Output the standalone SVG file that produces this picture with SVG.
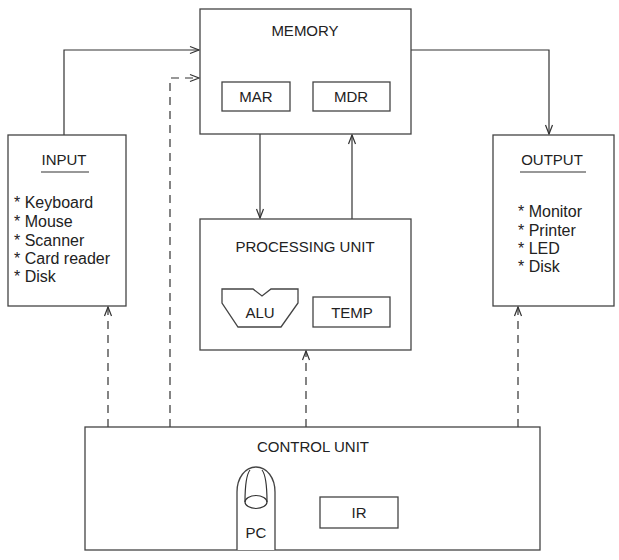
<svg xmlns="http://www.w3.org/2000/svg" width="619" height="560" viewBox="0 0 619 560">
<defs>
<marker id="arr" markerWidth="12" markerHeight="10" refX="10" refY="5" orient="auto" markerUnits="userSpaceOnUse">
<path d="M1,1.5 L10,5 L1,8.5" fill="none" stroke="#333" stroke-width="1.2"/>
</marker>
</defs>
<style>
.box{fill:#fff;stroke:#444;stroke-width:1.3}
.t{font-family:"Liberation Sans",Arial,sans-serif;font-size:15px;fill:#222}
.li{font-size:16px}
.c{text-anchor:middle}
.ln{fill:none;stroke:#333;stroke-width:1.2}
.dash{stroke-dasharray:8 6}
</style>
<rect width="619" height="560" fill="#fff"/>
<g id="connectors">
<path class="ln" d="M64,135 V50 H199" marker-end="url(#arr)"/>
<path class="ln dash" d="M170,427 V78 H199" marker-end="url(#arr)"/>
<path class="ln" d="M411,50 H549 V134" marker-end="url(#arr)"/>
<path class="ln" d="M260,134 V218" marker-end="url(#arr)"/>
<path class="ln" d="M352,219 V135" marker-end="url(#arr)"/>
<path class="ln dash" d="M108,427 V307" marker-end="url(#arr)"/>
<path class="ln dash" d="M306,427 V351" marker-end="url(#arr)"/>
<path class="ln dash" d="M518,427 V307" marker-end="url(#arr)"/>
</g>
<g id="memory">
<rect class="box" x="200" y="9" width="211" height="125"/>
<text class="t c" x="305" y="36">MEMORY</text>
<g id="mar"><rect class="box" x="222" y="82" width="68" height="29"/><text class="t c" x="256" y="102">MAR</text></g>
<g id="mdr"><rect class="box" x="313" y="82" width="77" height="29"/><text class="t c" x="351" y="102">MDR</text></g>
</g>
<g id="input">
<rect class="box" x="8" y="135" width="118" height="171"/>
<text class="t c" x="64" y="165">INPUT</text>
<line class="ln" x1="41" y1="172" x2="89" y2="172"/>
<text class="t li" x="14" y="208">* Keyboard</text>
<text class="t li" x="14" y="227">* Mouse</text>
<text class="t li" x="14" y="246">* Scanner</text>
<text class="t li" x="14" y="264">* Card reader</text>
<text class="t li" x="14" y="282">* Disk</text>
</g>
<g id="output">
<rect class="box" x="493" y="135" width="121" height="171"/>
<text class="t c" x="552" y="165">OUTPUT</text>
<line class="ln" x1="520" y1="172" x2="586" y2="172"/>
<text class="t li" x="518" y="217">* Monitor</text>
<text class="t li" x="518" y="236">* Printer</text>
<text class="t li" x="518" y="254">* LED</text>
<text class="t li" x="518" y="272">* Disk</text>
</g>
<g id="processing">
<rect class="box" x="200" y="219" width="211" height="131"/>
<text class="t c" x="305" y="252">PROCESSING UNIT</text>
<g id="alu"><path class="box" d="M222,289 H253 L262,296 L271,289 H298 V303 L281,327 H238 L222,303 Z"/><text class="t c" x="260" y="318">ALU</text></g>
<g id="temp"><rect class="box" x="313" y="297" width="77" height="30"/><text class="t c" x="352" y="318">TEMP</text></g>
</g>
<g id="control">
<rect class="box" x="85" y="427" width="455" height="123"/>
<text class="t c" x="313" y="452">CONTROL UNIT</text>
<g id="pc">
<path class="box" d="M237,550 V492 C237,478 245,467 256,467 C267,467 275,478 275,492 V550"/>
<path class="ln" d="M245,502 C245,490 246,475 250,470 M267,502 C267,490 266,475 262,470"/>
<ellipse class="ln" cx="256" cy="502" rx="11" ry="6.5"/>
<text class="t c" x="256" y="538">PC</text>
</g>
<g id="ir"><rect class="box" x="320" y="497" width="78" height="31"/><text class="t c" x="359" y="518">IR</text></g>
</g>
</svg>
